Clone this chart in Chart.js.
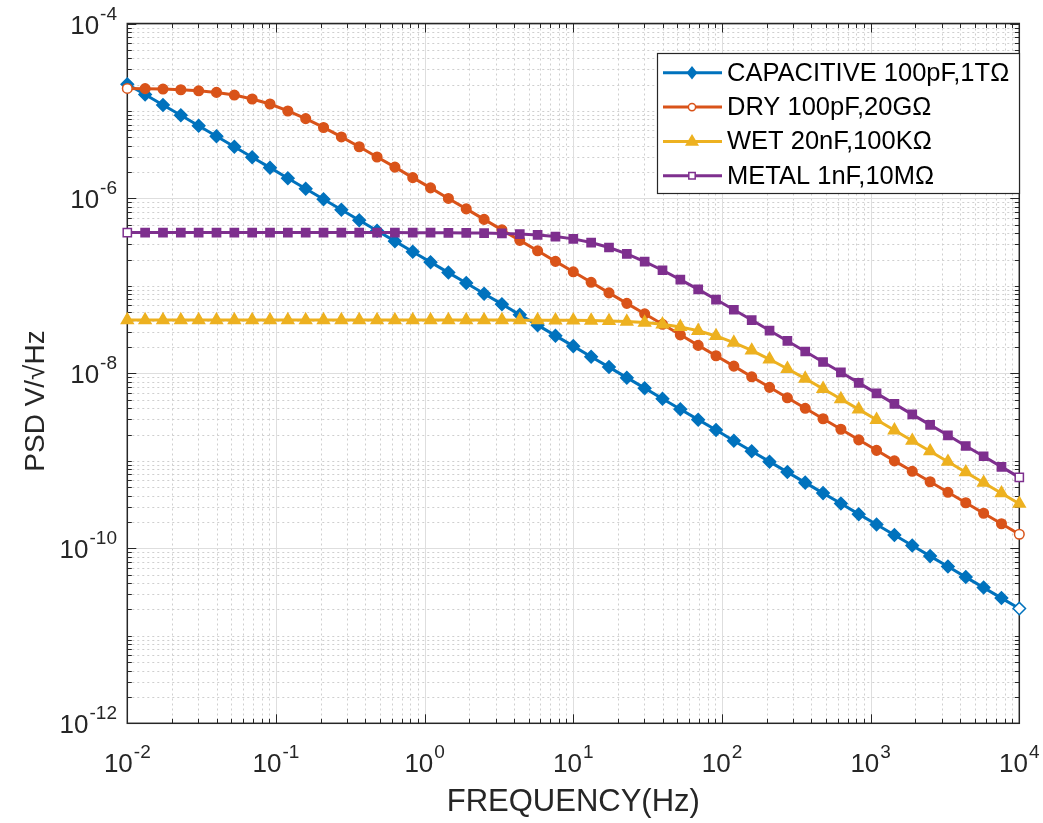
<!DOCTYPE html>
<html>
<head>
<meta charset="utf-8">
<script src="https://cdn.jsdelivr.net/npm/chart.js@4/dist/chart.umd.min.js"></script>
<style>
  html, body { margin: 0; background: #fff; }
</style>
</head>
<body>
<canvas id="psd" width="1043" height="823"></canvas>
<script>
// frequency points (Hz), 51 log-spaced points
const freq = [0.01, 0.01318, 0.01738, 0.02291, 0.0302, 0.03981, 0.05248, 0.06918, 0.0912,
  0.1202, 0.1585, 0.2089, 0.2754, 0.3631, 0.4786, 0.631, 0.8318,
  1.096, 1.445, 1.905, 2.512, 3.311, 4.365, 5.754, 7.586,
  10, 13.18, 17.38, 22.91, 30.2, 39.81, 52.48, 69.18, 91.2,
  120.2, 158.5, 208.9, 275.4, 363.1, 478.6, 631, 831.8,
  1096, 1445, 1905, 2512, 3311, 4365, 5754, 7586, 10000];

const capacitive = [2.02e-5, 1.54e-5, 1.17e-5, 8.92e-6, 6.77e-6, 5.14e-6, 3.90e-6, 2.96e-6, 2.25e-6,
  1.70e-6, 1.29e-6, 9.80e-7, 7.44e-7, 5.64e-7, 4.28e-7, 3.25e-7, 2.46e-7,
  1.87e-7, 1.42e-7, 1.08e-7, 8.15e-8, 6.19e-8, 4.69e-8, 3.56e-8, 2.70e-8,
  2.05e-8, 1.55e-8, 1.18e-8, 8.94e-9, 6.78e-9, 5.14e-9, 3.90e-9, 2.96e-9, 2.25e-9,
  1.70e-9, 1.29e-9, 9.80e-10, 7.44e-10, 5.64e-10, 4.28e-10, 3.25e-10, 2.46e-10,
  1.87e-10, 1.42e-10, 1.08e-10, 8.15e-11, 6.19e-11, 4.69e-11, 3.56e-11, 2.70e-11, 2.05e-11];

const dry = [1.81e-5, 1.80e-5, 1.78e-5, 1.75e-5, 1.70e-5, 1.63e-5, 1.52e-5, 1.37e-5, 1.20e-5,
  1.00e-5, 8.17e-6, 6.48e-6, 5.05e-6, 3.90e-6, 2.98e-6, 2.28e-6, 1.73e-6,
  1.32e-6, 1.00e-6, 7.60e-7, 5.76e-7, 4.37e-7, 3.32e-7, 2.52e-7, 1.91e-7,
  1.45e-7, 1.10e-7, 8.33e-8, 6.32e-8, 4.80e-8, 3.64e-8, 2.76e-8, 2.09e-8, 1.59e-8,
  1.21e-8, 9.14e-9, 6.93e-9, 5.26e-9, 3.99e-9, 3.03e-9, 2.30e-9, 1.74e-9,
  1.32e-9, 1.00e-9, 7.60e-10, 5.77e-10, 4.37e-10, 3.32e-10, 2.52e-10, 1.91e-10, 1.45e-10];

const wet = [4.07e-8, 4.07e-8, 4.07e-8, 4.07e-8, 4.07e-8, 4.07e-8, 4.07e-8, 4.07e-8, 4.07e-8,
  4.07e-8, 4.07e-8, 4.07e-8, 4.07e-8, 4.07e-8, 4.07e-8, 4.07e-8, 4.07e-8,
  4.07e-8, 4.07e-8, 4.07e-8, 4.07e-8, 4.07e-8, 4.06e-8, 4.06e-8, 4.05e-8,
  4.04e-8, 4.02e-8, 3.98e-8, 3.91e-8, 3.81e-8, 3.64e-8, 3.40e-8, 3.07e-8, 2.68e-8,
  2.25e-8, 1.83e-8, 1.45e-8, 1.13e-8, 8.71e-9, 6.67e-9, 5.09e-9, 3.88e-9,
  2.95e-9, 2.24e-9, 1.70e-9, 1.29e-9, 9.78e-10, 7.42e-10, 5.63e-10, 4.27e-10, 3.24e-10];

const metal = [4.07e-7, 4.07e-7, 4.07e-7, 4.07e-7, 4.07e-7, 4.07e-7, 4.07e-7, 4.07e-7, 4.07e-7,
  4.07e-7, 4.07e-7, 4.07e-7, 4.07e-7, 4.07e-7, 4.07e-7, 4.07e-7, 4.06e-7,
  4.06e-7, 4.05e-7, 4.04e-7, 4.02e-7, 3.98e-7, 3.92e-7, 3.83e-7, 3.67e-7,
  3.45e-7, 3.13e-7, 2.75e-7, 2.32e-7, 1.90e-7, 1.51e-7, 1.18e-7, 9.12e-8, 6.99e-8,
  5.34e-8, 4.07e-8, 3.09e-8, 2.35e-8, 1.78e-8, 1.35e-8, 1.03e-8, 7.79e-9,
  5.91e-9, 4.48e-9, 3.40e-9, 2.58e-9, 1.96e-9, 1.48e-9, 1.13e-9, 8.54e-10, 6.48e-10];

const seriesNames = ['CAPACITIVE 100pF,1TΩ', 'DRY 100pF,20GΩ', 'WET 20nF,100KΩ', 'METAL 1nF,10MΩ'];

// tick values and their labels (base 10, exponent as superscript)
const xTicks = [1e-2, 1e-1, 1, 10, 100, 1000, 10000];
const xTickExp = ['-2', '-1', '0', '1', '2', '3', '4'];
const yTicks = [1e-12, 1e-10, 1e-8, 1e-6, 1e-4];
const yTickExp = ['-12', '-10', '-8', '-6', '-4'];

// minor grid positions: 2..9 in each decade (+ the odd decades on y)
const minorX = [];
for (let e = -2; e < 4; e++) for (let m = 2; m <= 9; m++) minorX.push(m * Math.pow(10, e));
const minorY = [];
for (let e = -12; e < -4; e++) for (let m = 1; m <= 9; m++) {
  if (m === 1 && e % 2 === 0) continue;
  minorY.push(m * Math.pow(10, e));
}

const AX = '#262626';
const FONT = "'Liberation Sans', Arial, Helvetica, sans-serif";

function series(label, values, color, shape, radius, hollowFirst, hollowLast, order) {
  const last = values.length - 1;
  return {
    label: label,
    order: order,
    data: freq.map((f, i) => ({x: f, y: values[i]})),
    borderColor: color,
    backgroundColor: color,
    borderWidth: 3,
    pointStyle: shape,
    pointRadius: radius,
    pointHoverRadius: radius,
    pointBorderWidth: 1.5,
    pointBorderColor: color,
    pointBackgroundColor: c => ((hollowFirst && c.dataIndex === 0) || (hollowLast && c.dataIndex === last)) ? '#ffffff' : color,
    tension: 0,
    clip: false
  };
}

function marker(ctx, shape, x, y, r) {
  ctx.beginPath();
  if (shape === 'circle') {
    ctx.arc(x, y, r, 0, Math.PI * 2);
  } else if (shape === 'rect') {
    ctx.rect(x - r, y - r, 2 * r, 2 * r);
  } else if (shape === 'rectRot') {
    ctx.moveTo(x, y - r); ctx.lineTo(x + r * 0.8, y); ctx.lineTo(x, y + r); ctx.lineTo(x - r * 0.8, y);
  } else {
    ctx.moveTo(x, y - r); ctx.lineTo(x + r * 0.95, y + r * 0.6); ctx.lineTo(x - r * 0.95, y + r * 0.6);
  }
  ctx.closePath();
}

// "10" with a raised exponent; align 'center' or 'right' around x, baseline y
function powLabel(ctx, exp, x, y, align) {
  ctx.font = '26px ' + FONT;
  const wb = ctx.measureText('10').width;
  ctx.font = '19px ' + FONT;
  const we = ctx.measureText(exp).width + 1;
  const x0 = align === 'center' ? x - (wb + we) / 2 : x - wb - we;
  ctx.font = '26px ' + FONT;
  ctx.fillText('10', x0, y);
  ctx.font = '19px ' + FONT;
  ctx.fillText(exp, x0 + wb + 1, y - 14);
}

// grid, box, inward ticks and tick labels in MATLAB style
const frame = {
  id: 'frame',
  beforeDatasetsDraw(chart) {
    const {ctx, chartArea: a, scales: {x, y}} = chart;
    ctx.save();
    ctx.lineWidth = 1;
    ctx.strokeStyle = '#cfcfcf';
    ctx.setLineDash([2, 3]);
    minorX.forEach(v => {
      const p = Math.round(x.getPixelForValue(v)) + 0.5;
      ctx.beginPath(); ctx.moveTo(p, a.top); ctx.lineTo(p, a.bottom); ctx.stroke();
    });
    minorY.forEach(v => {
      const p = Math.round(y.getPixelForValue(v)) + 0.5;
      ctx.beginPath(); ctx.moveTo(a.left, p); ctx.lineTo(a.right, p); ctx.stroke();
    });
    ctx.setLineDash([]);
    ctx.strokeStyle = '#dedede';
    xTicks.forEach(v => {
      const p = Math.round(x.getPixelForValue(v)) + 0.5;
      ctx.beginPath(); ctx.moveTo(p, a.top); ctx.lineTo(p, a.bottom); ctx.stroke();
    });
    yTicks.forEach(v => {
      const p = Math.round(y.getPixelForValue(v)) + 0.5;
      ctx.beginPath(); ctx.moveTo(a.left, p); ctx.lineTo(a.right, p); ctx.stroke();
    });
    // ticks
    ctx.strokeStyle = AX;
    const tick = (vals, len, horiz) => vals.forEach(v => {
      ctx.beginPath();
      if (horiz) {
        const p = Math.round(x.getPixelForValue(v)) + 0.5;
        ctx.moveTo(p, a.bottom); ctx.lineTo(p, a.bottom - len);
        ctx.moveTo(p, a.top); ctx.lineTo(p, a.top + len);
      } else {
        const p = Math.round(y.getPixelForValue(v)) + 0.5;
        ctx.moveTo(a.left, p); ctx.lineTo(a.left + len, p);
        ctx.moveTo(a.right, p); ctx.lineTo(a.right - len, p);
      }
      ctx.stroke();
    });
    tick(xTicks, 9, true);
    tick(minorX, 4.5, true);
    tick(yTicks, 9, false);
    tick(minorY, 4.5, false);
    ctx.lineWidth = 1.5;
    ctx.strokeRect(a.left, a.top, a.right - a.left, a.bottom - a.top);
    // tick labels
    ctx.fillStyle = AX;
    ctx.textAlign = 'left';
    ctx.textBaseline = 'alphabetic';
    xTicks.forEach((v, i) => powLabel(ctx, xTickExp[i], x.getPixelForValue(v), 772, 'center'));
    yTicks.forEach((v, i) => powLabel(ctx, yTickExp[i], 117, y.getPixelForValue(v) + 10, 'right'));
    // y title
    ctx.font = '28px ' + FONT;
    ctx.textAlign = 'center';
    ctx.textBaseline = 'middle';
    ctx.translate(36, 401);
    ctx.rotate(-Math.PI / 2);
    ctx.fillText('PSD V/√Hz', 0, 0);
    ctx.restore();
  },
  afterDraw(chart) {
    const ctx = chart.ctx;
    const box = {left: 657, top: 53, right: 1019, bottom: 193};
    ctx.save();
    ctx.fillStyle = '#ffffff';
    ctx.fillRect(box.left, box.top, box.right - box.left, box.bottom - box.top);
    ctx.strokeStyle = AX;
    ctx.lineWidth = 1.2;
    ctx.strokeRect(box.left + 0.5, box.top + 0.5, box.right - box.left, box.bottom - box.top);
    const shapes = ['rectRot', 'circle', 'triangle', 'rect'];
    const sizes = [5.5, 3.6, 6, 3.2];
    const hollow = [false, true, false, true];
    chart.data.datasets.forEach((ds, i) => {
      const yy = 72.8 + i * 34.3;
      ctx.strokeStyle = ds.borderColor;
      ctx.lineWidth = 3;
      ctx.beginPath(); ctx.moveTo(663, yy); ctx.lineTo(722, yy); ctx.stroke();
      marker(ctx, shapes[i], 692, yy, sizes[i]);
      ctx.fillStyle = hollow[i] ? '#ffffff' : ds.borderColor;
      ctx.fill();
      ctx.lineWidth = 1.5;
      ctx.stroke();
      ctx.fillStyle = '#000000';
      ctx.font = '25.5px ' + FONT;
      ctx.textAlign = 'left';
      ctx.textBaseline = 'middle';
      ctx.fillText(ds.label, 727, yy + 1);
    });
    ctx.restore();
  }
};

const psdChart = new Chart(document.getElementById('psd'), {
  type: 'line',
  data: {
    datasets: [
      series(seriesNames[0], capacitive, '#0072BD', 'rectRot', 6.2, false, true, 3),
      series(seriesNames[1], dry, '#D95319', 'circle', 4.8, true, true, 2),
      series(seriesNames[2], wet, '#EDB120', 'triangle', 6.8, false, false, 1),
      series(seriesNames[3], metal, '#7E2F8E', 'rect', 5.8, true, true, 0)
    ]
  },
  options: {
    responsive: false,
    animation: false,
    devicePixelRatio: 1,
    layout: { padding: { top: 23.5, right: 23.7, left: 0, bottom: 0 } },
    plugins: { legend: { display: false }, tooltip: { enabled: false } },
    scales: {
      x: {
        type: 'logarithmic',
        min: 1e-2, max: 1e4,
        afterBuildTicks: s => { s.ticks = xTicks.map(v => ({value: v})); },
        afterFit: s => { s.height = 99.7; s.paddingLeft = 0; s.paddingRight = 0; },
        grid: { display: false, drawTicks: false },
        border: { display: false },
        ticks: { display: false },
        title: {
          display: true, text: 'FREQUENCY(Hz)', color: AX,
          font: { family: FONT, size: 31 }, padding: { top: 0, bottom: 2 }
        }
      },
      y: {
        type: 'logarithmic',
        min: 1e-12, max: 1e-4,
        afterBuildTicks: s => { s.ticks = yTicks.map(v => ({value: v})); },
        afterFit: s => { s.width = 127.3; s.paddingTop = 0; s.paddingBottom = 0; },
        grid: { display: false, drawTicks: false },
        border: { display: false },
        ticks: { display: false }
      }
    }
  },
  plugins: [frame]
});
</script>
</body>
</html>
